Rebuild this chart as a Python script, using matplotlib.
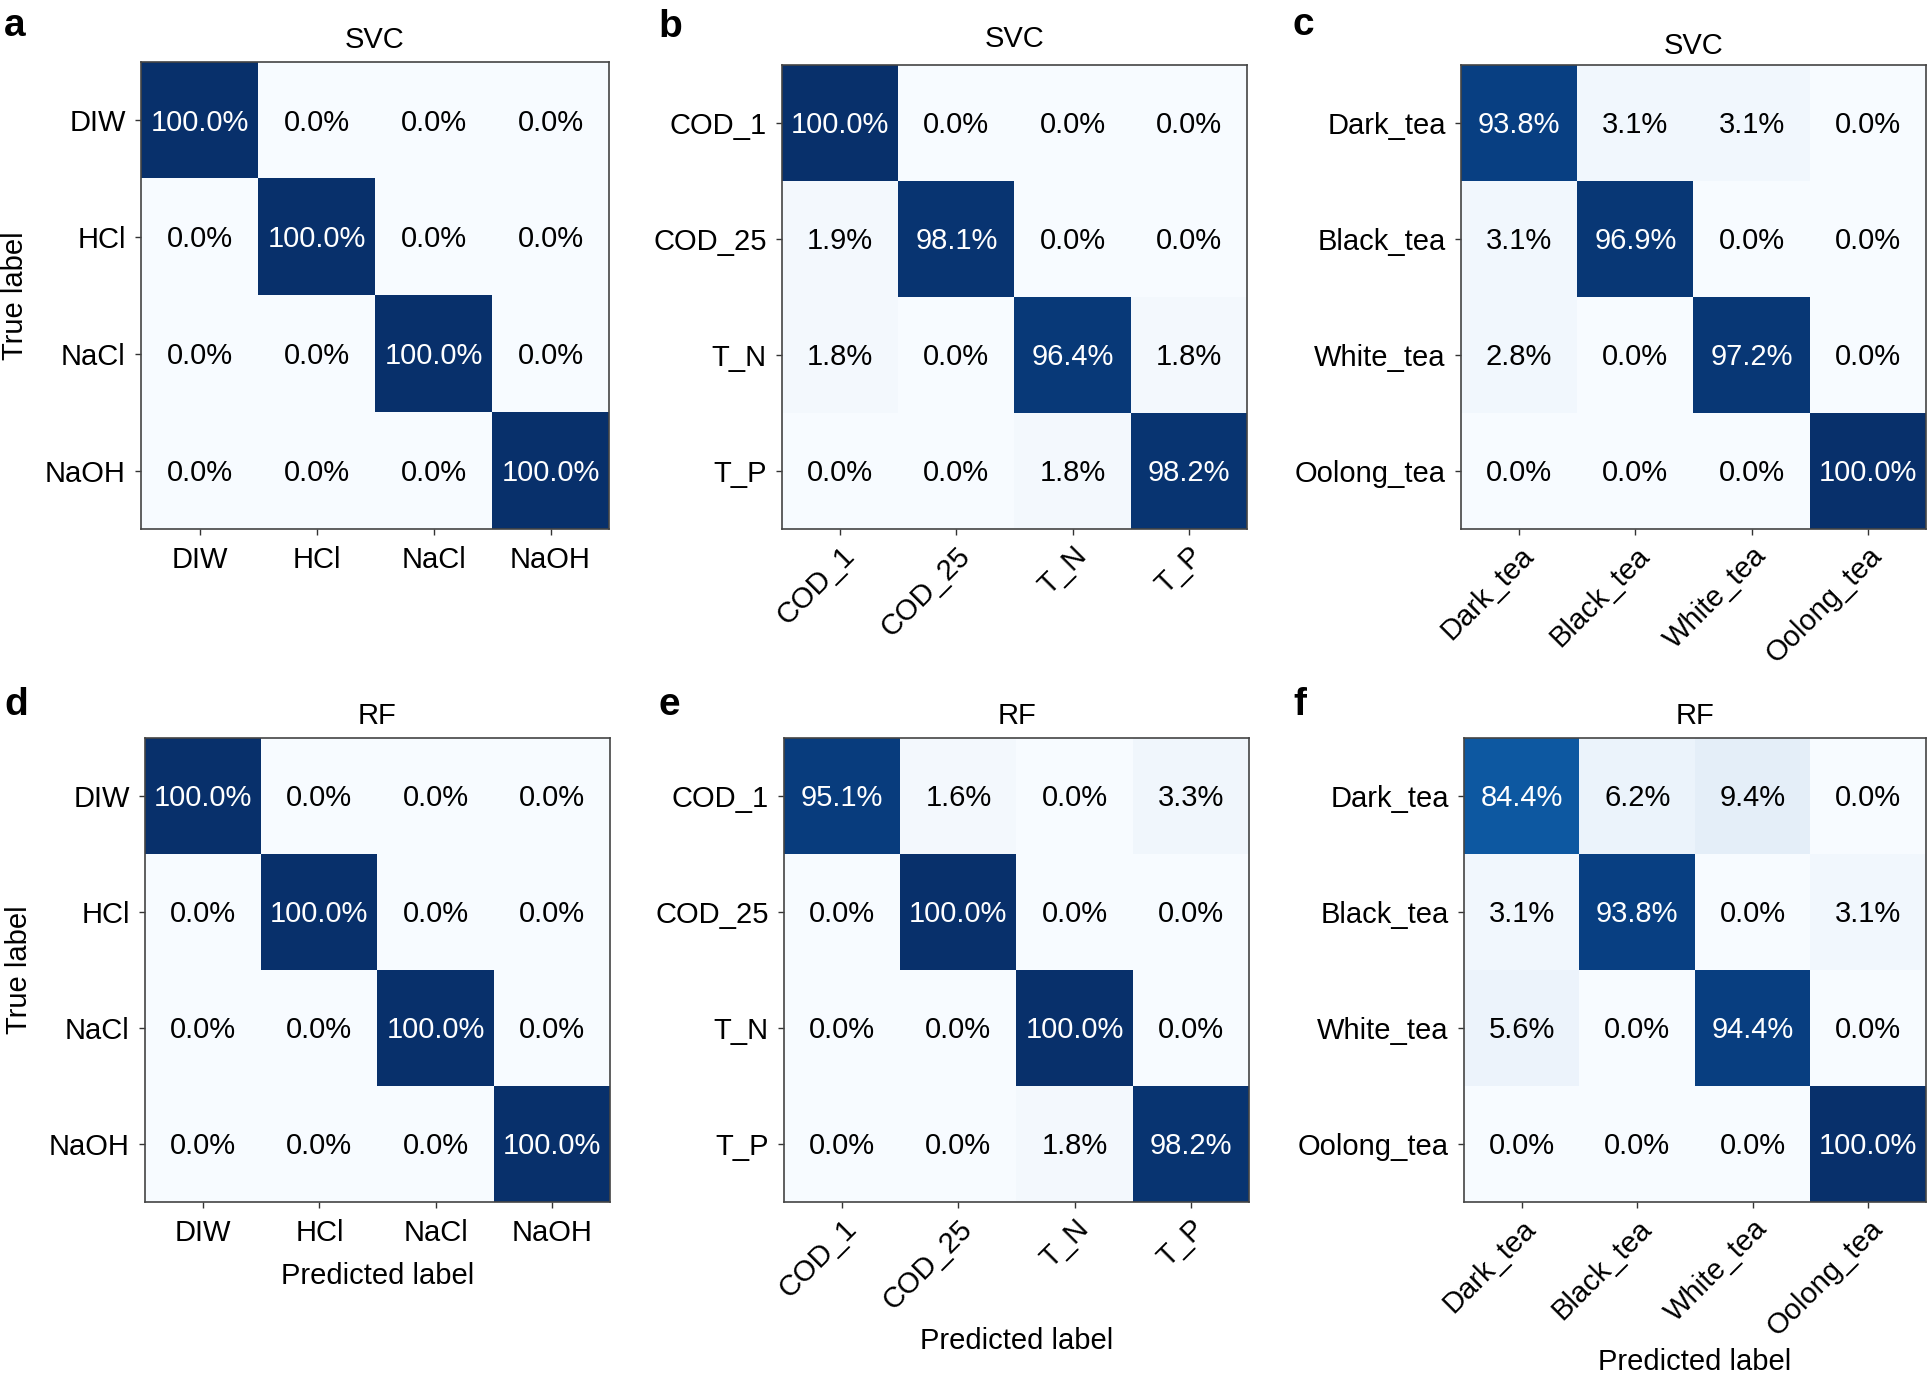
import numpy as np
import matplotlib
matplotlib.use("Agg")
import matplotlib.pyplot as plt

plt.rcParams['font.family'] = ['Liberation Sans', 'DejaVu Sans']

# ---------------- data ----------------
ions = ["DIW", "HCl", "NaCl", "NaOH"]
water = ["COD_1", "COD_25", "T_N", "T_P"]
teas = ["Dark_tea", "Black_tea", "White_tea", "Oolong_tea"]

svc_ions = [[100.0, 0.0, 0.0, 0.0],
            [0.0, 100.0, 0.0, 0.0],
            [0.0, 0.0, 100.0, 0.0],
            [0.0, 0.0, 0.0, 100.0]]
svc_water = [[100.0, 0.0, 0.0, 0.0],
             [1.9, 98.1, 0.0, 0.0],
             [1.8, 0.0, 96.4, 1.8],
             [0.0, 0.0, 1.8, 98.2]]
svc_teas = [[93.8, 3.1, 3.1, 0.0],
            [3.1, 96.9, 0.0, 0.0],
            [2.8, 0.0, 97.2, 0.0],
            [0.0, 0.0, 0.0, 100.0]]
rf_ions = [[100.0, 0.0, 0.0, 0.0],
           [0.0, 100.0, 0.0, 0.0],
           [0.0, 0.0, 100.0, 0.0],
           [0.0, 0.0, 0.0, 100.0]]
rf_water = [[95.1, 1.6, 0.0, 3.3],
            [0.0, 100.0, 0.0, 0.0],
            [0.0, 0.0, 100.0, 0.0],
            [0.0, 0.0, 1.8, 98.2]]
rf_teas = [[84.4, 6.2, 9.4, 0.0],
           [3.1, 93.8, 0.0, 3.1],
           [5.6, 0.0, 94.4, 0.0],
           [0.0, 0.0, 0.0, 100.0]]

W, H = 1929, 1387
fig = plt.figure(figsize=(W / 100, H / 100), dpi=100)

FS = 21

def px_axes(x0, y0, x1, y1):
    return fig.add_axes([x0 / W, 1 - y1 / H, (x1 - x0) / W, (y1 - y0) / H])

panels = [
    # (matrix, labels, title, box, rot, title_y, letter, letter_xy, ylabel, xlabel_y)
    (svc_ions, ions, "SVC", (141, 62, 609, 529), False, 1.048, "a", (4, 36), True, None),
    (svc_water, water, "SVC", (782, 65, 1247, 529), True, 1.055, "b", (658, 37), False, None),
    (svc_teas, teas, "SVC", (1461, 65, 1926, 529), True, 1.040, "c", (1292, 35), False, None),
    (rf_ions, ions, "RF", (145, 738, 610, 1202), False, 1.048, "d", (4, 715), True, -0.160),
    (rf_water, water, "RF", (784, 738, 1249, 1202), True, 1.048, "e", (658, 715), False, -0.300),
    (rf_teas, teas, "RF", (1464, 738, 1926, 1202), True, 1.048, "f", (1293, 715), False, -0.345),
]

for mat, labels, title, box, rot, ty, letter, lxy, ylab, xly in panels:
    ax = px_axes(*box)
    m = np.array(mat) / 100.0
    ax.imshow(m, cmap="Blues", vmin=0, vmax=1, interpolation="nearest", aspect="auto")
    n = len(labels)
    for i in range(n):
        for j in range(n):
            v = mat[i][j]
            ax.text(j, i + 0.02, f"{v:.1f}%", ha="center", va="center", fontsize=FS,
                    color="white" if v > 50 else "black")
    ax.set_xticks(range(n))
    ax.set_yticks(range(n))
    ax.set_yticklabels(labels, fontsize=FS)
    if rot:
        ax.set_xticklabels(labels, fontsize=FS, rotation=45, ha="right",
                           rotation_mode="anchor", va="top")
        ax.tick_params(axis="x", pad=5)
    else:
        ax.set_xticklabels(labels, fontsize=FS)
        ax.tick_params(axis="x", pad=8)
    ax.tick_params(axis="y", pad=7)
    ax.tick_params(length=4, width=1, color="#333333")
    for s in ax.spines.values():
        s.set_color("#444444")
        s.set_linewidth(1.2)
    ax.set_title(title, fontsize=FS, y=ty, pad=0, va="center")
    if ylab:
        ax.set_ylabel("True label", fontsize=FS, va="center")
        ax.yaxis.set_label_coords(-0.27, 0.5)
    if xly is not None:
        ax.set_xlabel("Predicted label", fontsize=FS, va="center")
        ax.xaxis.set_label_coords(0.5, xly)
    fig.text(lxy[0] / W, 1 - lxy[1] / H, letter, fontsize=28, fontweight="bold",
             ha="left", va="baseline")

fig.savefig("out.png", dpi=100)
